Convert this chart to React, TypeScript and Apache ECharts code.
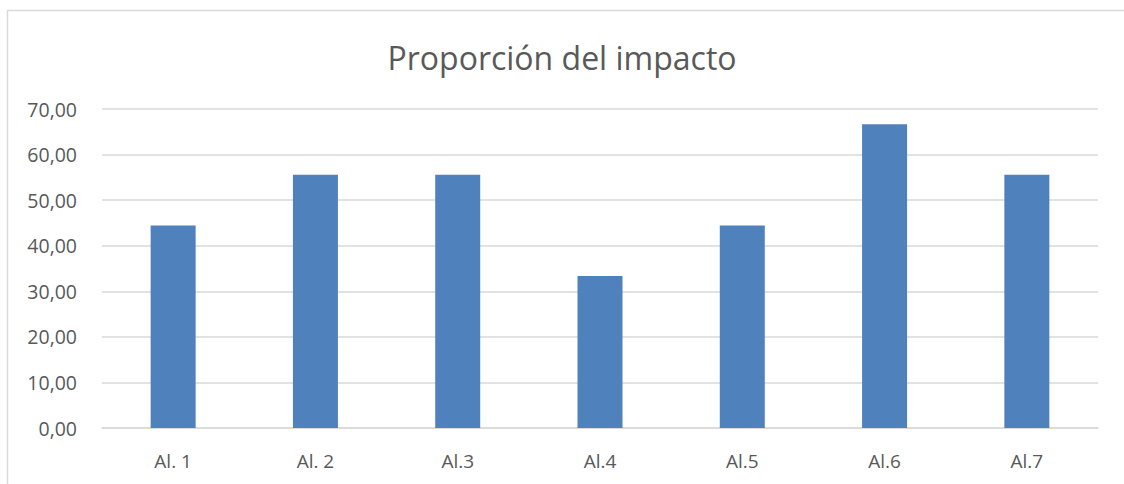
import React, { useEffect, useRef } from "react";
import * as echarts from "echarts";

const categories = ["Al. 1", "Al. 2", "Al.3", "Al.4", "Al.5", "Al.6", "Al.7"];
const values = [44.44, 55.56, 55.56, 33.33, 44.44, 66.67, 55.56];
const yTicks = { min: 0, max: 70, interval: 10 };
const titleText = "Proporción del impacto";

export default function App() {
  const ref = useRef<HTMLDivElement>(null);
  useEffect(() => {
    const chart = echarts.init(ref.current!, null, { renderer: "svg" });
    chart.setOption({
      animation: false,
      backgroundColor: "#ffffff",
      textStyle: { fontFamily: "Open Sans" },
      title: {
        text: titleText,
        left: "center",
        top: 36,
        textStyle: { fontSize: 32, fontWeight: "normal", color: "#595959", fontFamily: "Open Sans" },
      },
      graphic: [
        {
          type: "rect",
          shape: { x: 7.5, y: 10.5, width: 1130, height: 490 },
          style: { fill: "none", stroke: "#d9d9d9", lineWidth: 1.5 },
          silent: true,
        },
      ],
      grid: { left: 102, right: 26, top: 109, bottom: 56 },
      xAxis: {
        type: "category",
        data: categories,
        axisLine: { show: true, lineStyle: { color: "#d9d9d9", width: 1.5 } },
        axisTick: { show: false },
        axisLabel: { color: "#595959", fontSize: 19, margin: 23 },
      },
      yAxis: {
        type: "value",
        min: yTicks.min,
        max: yTicks.max,
        interval: yTicks.interval,
        axisLine: { show: false },
        axisTick: { show: false },
        splitLine: { lineStyle: { color: "#d9d9d9", width: 1.5 } },
        axisLabel: {
          color: "#595959",
          fontSize: 19.5,
          margin: 25,
          formatter: (v: number) => v.toFixed(2).replace(".", ","),
        },
      },
      series: [
        {
          type: "bar",
          data: values,
          barWidth: 45,
          itemStyle: { color: "#4f81bd" },
        },
      ],
    });
    return () => chart.dispose();
  }, []);
  return <div ref={ref} style={{ position: "fixed", left: 0, top: 0, width: 1124, height: 484 }} />;
}
